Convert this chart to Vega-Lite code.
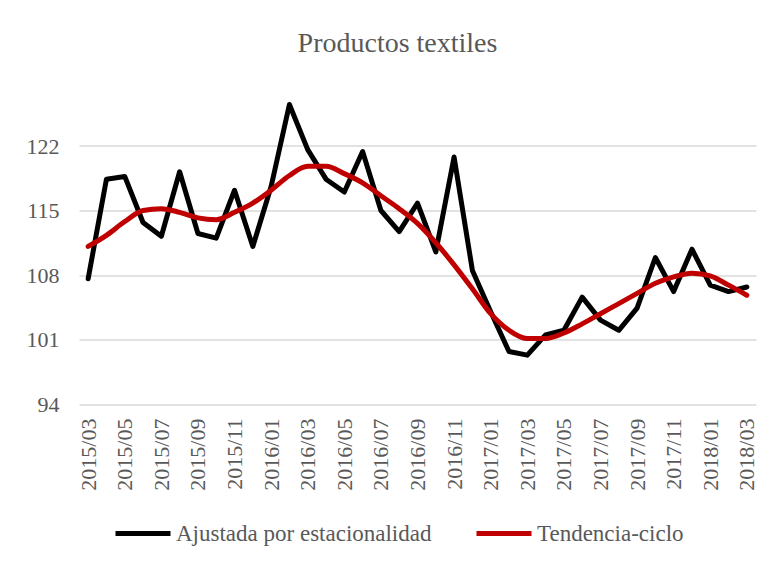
{
  "$schema": "https://vega.github.io/schema/vega-lite/v6.json",
  "width": 677,
  "height": 322.5,
  "autosize": {"type": "none"},
  "padding": {"left": 79, "top": 81.5, "right": 19, "bottom": 164},
  "background": "white",
  "title": {"text": "Productos textiles", "font": "Liberation Serif", "fontSize": 28, "fontWeight": "normal", "color": "#595959", "anchor": "middle", "dx": -20, "offset": 24},
  "data": {"values": [
    {"mes": "2015/03", "serie": "Ajustada por estacionalidad", "valor": 107.6},
    {"mes": "2015/04", "serie": "Ajustada por estacionalidad", "valor": 118.4},
    {"mes": "2015/05", "serie": "Ajustada por estacionalidad", "valor": 118.7},
    {"mes": "2015/06", "serie": "Ajustada por estacionalidad", "valor": 113.7},
    {"mes": "2015/07", "serie": "Ajustada por estacionalidad", "valor": 112.2},
    {"mes": "2015/08", "serie": "Ajustada por estacionalidad", "valor": 119.2},
    {"mes": "2015/09", "serie": "Ajustada por estacionalidad", "valor": 112.5},
    {"mes": "2015/10", "serie": "Ajustada por estacionalidad", "valor": 112.0},
    {"mes": "2015/11", "serie": "Ajustada por estacionalidad", "valor": 117.2},
    {"mes": "2015/12", "serie": "Ajustada por estacionalidad", "valor": 111.1},
    {"mes": "2016/01", "serie": "Ajustada por estacionalidad", "valor": 117.6},
    {"mes": "2016/02", "serie": "Ajustada por estacionalidad", "valor": 126.5},
    {"mes": "2016/03", "serie": "Ajustada por estacionalidad", "valor": 121.6},
    {"mes": "2016/04", "serie": "Ajustada por estacionalidad", "valor": 118.4},
    {"mes": "2016/05", "serie": "Ajustada por estacionalidad", "valor": 117.0},
    {"mes": "2016/06", "serie": "Ajustada por estacionalidad", "valor": 121.4},
    {"mes": "2016/07", "serie": "Ajustada por estacionalidad", "valor": 115.0},
    {"mes": "2016/08", "serie": "Ajustada por estacionalidad", "valor": 112.7},
    {"mes": "2016/09", "serie": "Ajustada por estacionalidad", "valor": 115.8},
    {"mes": "2016/10", "serie": "Ajustada por estacionalidad", "valor": 110.5},
    {"mes": "2016/11", "serie": "Ajustada por estacionalidad", "valor": 120.8},
    {"mes": "2016/12", "serie": "Ajustada por estacionalidad", "valor": 108.5},
    {"mes": "2017/01", "serie": "Ajustada por estacionalidad", "valor": 104.0},
    {"mes": "2017/02", "serie": "Ajustada por estacionalidad", "valor": 99.7},
    {"mes": "2017/03", "serie": "Ajustada por estacionalidad", "valor": 99.3},
    {"mes": "2017/04", "serie": "Ajustada por estacionalidad", "valor": 101.5},
    {"mes": "2017/05", "serie": "Ajustada por estacionalidad", "valor": 102.0},
    {"mes": "2017/06", "serie": "Ajustada por estacionalidad", "valor": 105.6},
    {"mes": "2017/07", "serie": "Ajustada por estacionalidad", "valor": 103.1},
    {"mes": "2017/08", "serie": "Ajustada por estacionalidad", "valor": 102.0},
    {"mes": "2017/09", "serie": "Ajustada por estacionalidad", "valor": 104.4},
    {"mes": "2017/10", "serie": "Ajustada por estacionalidad", "valor": 109.9},
    {"mes": "2017/11", "serie": "Ajustada por estacionalidad", "valor": 106.2},
    {"mes": "2017/12", "serie": "Ajustada por estacionalidad", "valor": 110.8},
    {"mes": "2018/01", "serie": "Ajustada por estacionalidad", "valor": 106.9},
    {"mes": "2018/02", "serie": "Ajustada por estacionalidad", "valor": 106.2},
    {"mes": "2018/03", "serie": "Ajustada por estacionalidad", "valor": 106.7},
    {"mes": "2015/03", "serie": "Tendencia-ciclo", "valor": 111.1},
    {"mes": "2015/04", "serie": "Tendencia-ciclo", "valor": 112.3},
    {"mes": "2015/05", "serie": "Tendencia-ciclo", "valor": 113.8},
    {"mes": "2015/06", "serie": "Tendencia-ciclo", "valor": 115.0},
    {"mes": "2015/07", "serie": "Tendencia-ciclo", "valor": 115.2},
    {"mes": "2015/08", "serie": "Tendencia-ciclo", "valor": 114.8},
    {"mes": "2015/09", "serie": "Tendencia-ciclo", "valor": 114.2},
    {"mes": "2015/10", "serie": "Tendencia-ciclo", "valor": 114.0},
    {"mes": "2015/11", "serie": "Tendencia-ciclo", "valor": 114.8},
    {"mes": "2015/12", "serie": "Tendencia-ciclo", "valor": 115.8},
    {"mes": "2016/01", "serie": "Tendencia-ciclo", "valor": 117.2},
    {"mes": "2016/02", "serie": "Tendencia-ciclo", "valor": 118.8},
    {"mes": "2016/03", "serie": "Tendencia-ciclo", "valor": 119.8},
    {"mes": "2016/04", "serie": "Tendencia-ciclo", "valor": 119.8},
    {"mes": "2016/05", "serie": "Tendencia-ciclo", "valor": 119.0},
    {"mes": "2016/06", "serie": "Tendencia-ciclo", "valor": 118.0},
    {"mes": "2016/07", "serie": "Tendencia-ciclo", "valor": 116.6},
    {"mes": "2016/08", "serie": "Tendencia-ciclo", "valor": 115.2},
    {"mes": "2016/09", "serie": "Tendencia-ciclo", "valor": 113.6},
    {"mes": "2016/10", "serie": "Tendencia-ciclo", "valor": 111.5},
    {"mes": "2016/11", "serie": "Tendencia-ciclo", "valor": 109.1},
    {"mes": "2016/12", "serie": "Tendencia-ciclo", "valor": 106.5},
    {"mes": "2017/01", "serie": "Tendencia-ciclo", "valor": 103.8},
    {"mes": "2017/02", "serie": "Tendencia-ciclo", "valor": 102.0},
    {"mes": "2017/03", "serie": "Tendencia-ciclo", "valor": 101.1},
    {"mes": "2017/04", "serie": "Tendencia-ciclo", "valor": 101.1},
    {"mes": "2017/05", "serie": "Tendencia-ciclo", "valor": 101.7},
    {"mes": "2017/06", "serie": "Tendencia-ciclo", "valor": 102.7},
    {"mes": "2017/07", "serie": "Tendencia-ciclo", "valor": 103.8},
    {"mes": "2017/08", "serie": "Tendencia-ciclo", "valor": 104.9},
    {"mes": "2017/09", "serie": "Tendencia-ciclo", "valor": 106.0},
    {"mes": "2017/10", "serie": "Tendencia-ciclo", "valor": 107.1},
    {"mes": "2017/11", "serie": "Tendencia-ciclo", "valor": 107.8},
    {"mes": "2017/12", "serie": "Tendencia-ciclo", "valor": 108.2},
    {"mes": "2018/01", "serie": "Tendencia-ciclo", "valor": 107.9},
    {"mes": "2018/02", "serie": "Tendencia-ciclo", "valor": 106.9},
    {"mes": "2018/03", "serie": "Tendencia-ciclo", "valor": 105.8}
  ]},
  "encoding": {
    "x": {
      "field": "mes", "type": "ordinal", "sort": null,
      "scale": {"type": "point", "padding": 0.5},
      "axis": {
        "title": null,
        "values": ["2015/03","2015/05","2015/07","2015/09","2015/11","2016/01","2016/03","2016/05","2016/07","2016/09","2016/11","2017/01","2017/03","2017/05","2017/07","2017/09","2017/11","2018/01","2018/03"],
        "labelAngle": -90, "labelFont": "Liberation Serif", "labelFontSize": 22, "labelColor": "#595959",
        "ticks": false, "domain": false, "grid": false, "labelPadding": 14
      }
    },
    "y": {
      "field": "valor", "type": "quantitative",
      "scale": {"domain": [94, 129], "nice": false, "zero": false},
      "axis": {
        "title": null, "values": [94, 101, 108, 115, 122],
        "labelFont": "Liberation Serif", "labelFontSize": 22, "labelColor": "#595959",
        "ticks": false, "domain": false, "grid": true, "gridColor": "#d9d9d9", "gridWidth": 1.3, "labelPadding": 20
      }
    },
    "color": {
      "field": "serie", "type": "nominal",
      "scale": {"domain": ["Ajustada por estacionalidad", "Tendencia-ciclo"], "range": ["#000000", "#C00000"]},
      "legend": {
        "title": null, "orient": "none", "legendX": 34, "legendY": 422, "direction": "horizontal",
        "symbolType": "stroke", "symbolSize": 3025, "symbolStrokeWidth": 5,
        "labelFont": "Liberation Serif", "labelFontSize": 23, "labelColor": "#595959", "labelLimit": 400,
        "labelOffset": 3, "columnPadding": 34
      }
    }
  },
  "layer": [
    {"transform": [{"filter": "datum.serie === 'Ajustada por estacionalidad'"}],
     "mark": {"type": "line", "strokeWidth": 5, "strokeJoin": "round", "strokeCap": "round"}},
    {"transform": [{"filter": "datum.serie === 'Tendencia-ciclo'"}],
     "mark": {"type": "line", "strokeWidth": 5, "interpolate": "monotone", "strokeCap": "round"}}
  ],
  "config": {"view": {"stroke": null}}
}
